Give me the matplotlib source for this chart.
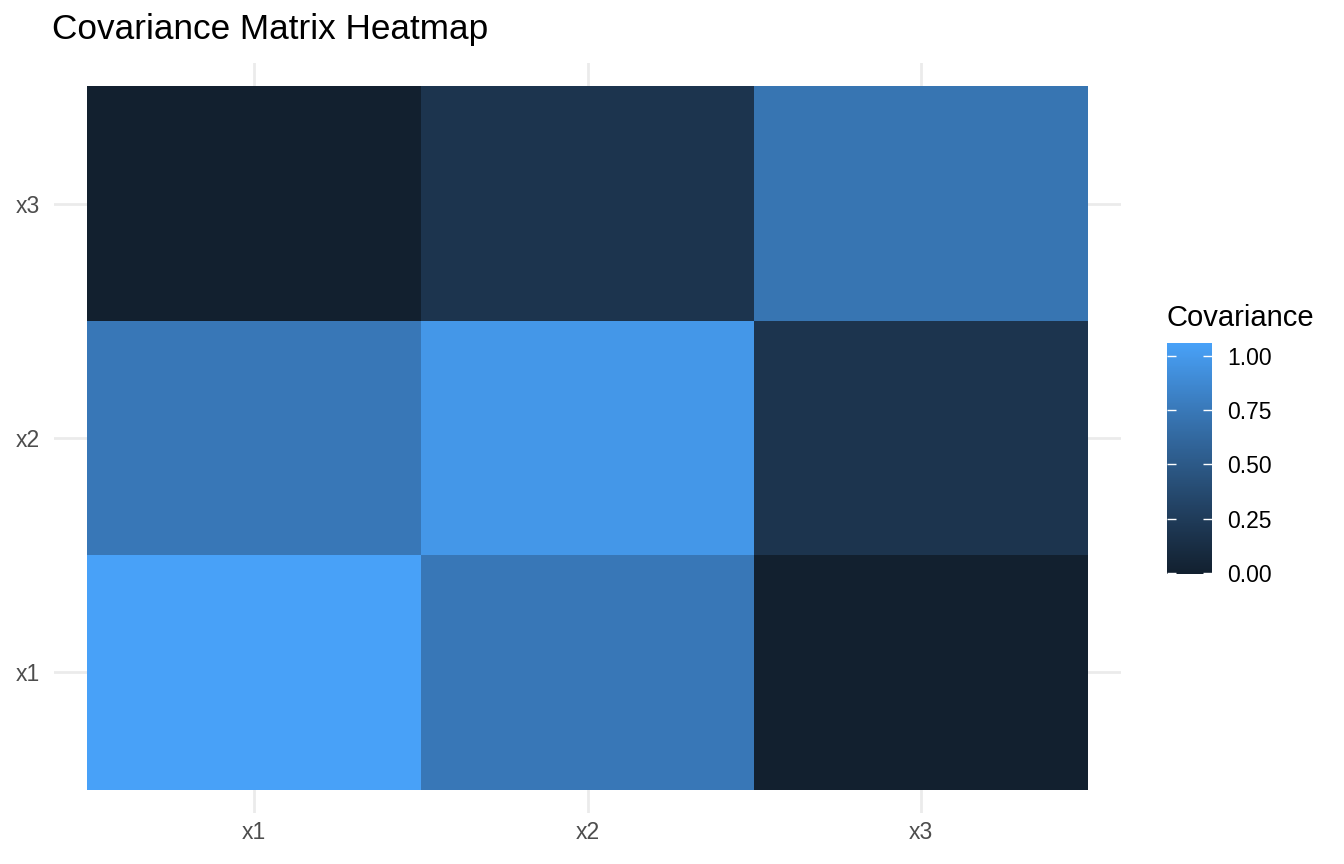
import numpy as np
import matplotlib
matplotlib.use("Agg")
import matplotlib.pyplot as plt
from matplotlib.colors import ListedColormap

plt.rcParams['font.family'] = ['Liberation Sans', 'DejaVu Sans']

# data: covariance matrix (rows = y variable, cols = x variable)
variables = ["x1", "x2", "x3"]
cov_x1 = [1.06, 0.74, -0.006]
cov_x2 = [0.74, 0.983, 0.185]
cov_x3 = [-0.006, 0.185, 0.721]
cbar_ticks = [0.0, 0.25, 0.5, 0.75, 1.0]
cbar_labels = ["0.00", "0.25", "0.50", "0.75", "1.00"]

cov = np.array([cov_x1, cov_x2, cov_x3])


# ggplot style gradient: interpolate in Lab space
def srgb_to_lab(rgb):
    c = np.asarray(rgb, dtype=float)
    lin = np.where(c <= 0.04045, c / 12.92, ((c + 0.055) / 1.055) ** 2.4)
    m = np.array([[0.4124, 0.3576, 0.1805],
                  [0.2126, 0.7152, 0.0722],
                  [0.0193, 0.1192, 0.9505]])
    xyz = m @ lin / np.array([0.95047, 1.0, 1.08883])
    f = np.where(xyz > 0.008856, np.cbrt(xyz), 7.787 * xyz + 16 / 116)
    return np.array([116 * f[1] - 16, 500 * (f[0] - f[1]), 200 * (f[1] - f[2])])


def lab_to_srgb(lab):
    L, a, b = lab
    fy = (L + 16) / 116
    fx = fy + a / 500
    fz = fy - b / 200
    f = np.array([fx, fy, fz])
    xyz = np.where(f ** 3 > 0.008856, f ** 3, (f - 16 / 116) / 7.787)
    xyz = xyz * np.array([0.95047, 1.0, 1.08883])
    m = np.array([[3.2406, -1.5372, -0.4986],
                  [-0.9689, 1.8758, 0.0415],
                  [0.0557, -0.2040, 1.0570]])
    lin = m @ xyz
    c = np.where(lin <= 0.0031308, 12.92 * lin, 1.055 * np.clip(lin, 0, None) ** (1 / 2.4) - 0.055)
    return np.clip(c, 0, 1)


def hex_rgb(h):
    h = h.lstrip('#')
    return [int(h[i:i + 2], 16) / 255 for i in (0, 2, 4)]


low = srgb_to_lab(hex_rgb("#12202F"))
high = srgb_to_lab(hex_rgb("#48A1F8"))
colors = [lab_to_srgb(low + (high - low) * t) for t in np.linspace(0, 1, 256)]
cmap = ListedColormap(colors)

vmin, vmax = cov.min(), cov.max()

fig = plt.figure(figsize=(13.44, 8.64), dpi=100)
ax = fig.add_axes([54 / 1344, 51 / 864, 1067 / 1344, 750 / 864])

pos = np.arange(1, len(variables) + 1)
edges = np.arange(0.5, len(variables) + 1)
mesh = ax.pcolormesh(edges, edges, cov, cmap=cmap, vmin=vmin, vmax=vmax, zorder=2)

ax.set_xlim(0.4, 3.6)
ax.set_ylim(0.4, 3.6)
ax.set_xticks(pos)
ax.set_yticks(pos)
ax.set_xticklabels(variables)
ax.set_yticklabels(variables)
ax.grid(True, color="#EBEBEB", linewidth=2.0, zorder=0)
ax.set_axisbelow(True)
for s in ax.spines.values():
    s.set_visible(False)
ax.tick_params(length=0, labelsize=16.5, labelcolor="#4D4D4D")
ax.tick_params(axis='y', pad=10)
ax.tick_params(axis='x', pad=6)

fig.text(52 / 1344, 1 - 30 / 864, "Covariance Matrix Heatmap", fontsize=25.3,
         ha="left", va="center", color="black")

# legend colorbar
cax = fig.add_axes([1167 / 1344, (864 - 574) / 864, 45 / 1344, 231 / 864])
cb = fig.colorbar(mesh, cax=cax, ticks=cbar_ticks)
cb.outline.set_visible(False)
cb.ax.set_yticklabels(cbar_labels)
cb.ax.tick_params(length=0, labelsize=16.5, labelcolor="black", pad=11)
cb.ax.hlines(cbar_ticks, 0, 0.2, color="white", linewidth=1)
cb.ax.hlines(cbar_ticks, 0.8, 1.0, color="white", linewidth=1)
fig.text(1166 / 1344, 1 - 318 / 864, "Covariance", fontsize=21,
         ha="left", va="center", color="black")

fig.savefig("out.png", dpi=100)
